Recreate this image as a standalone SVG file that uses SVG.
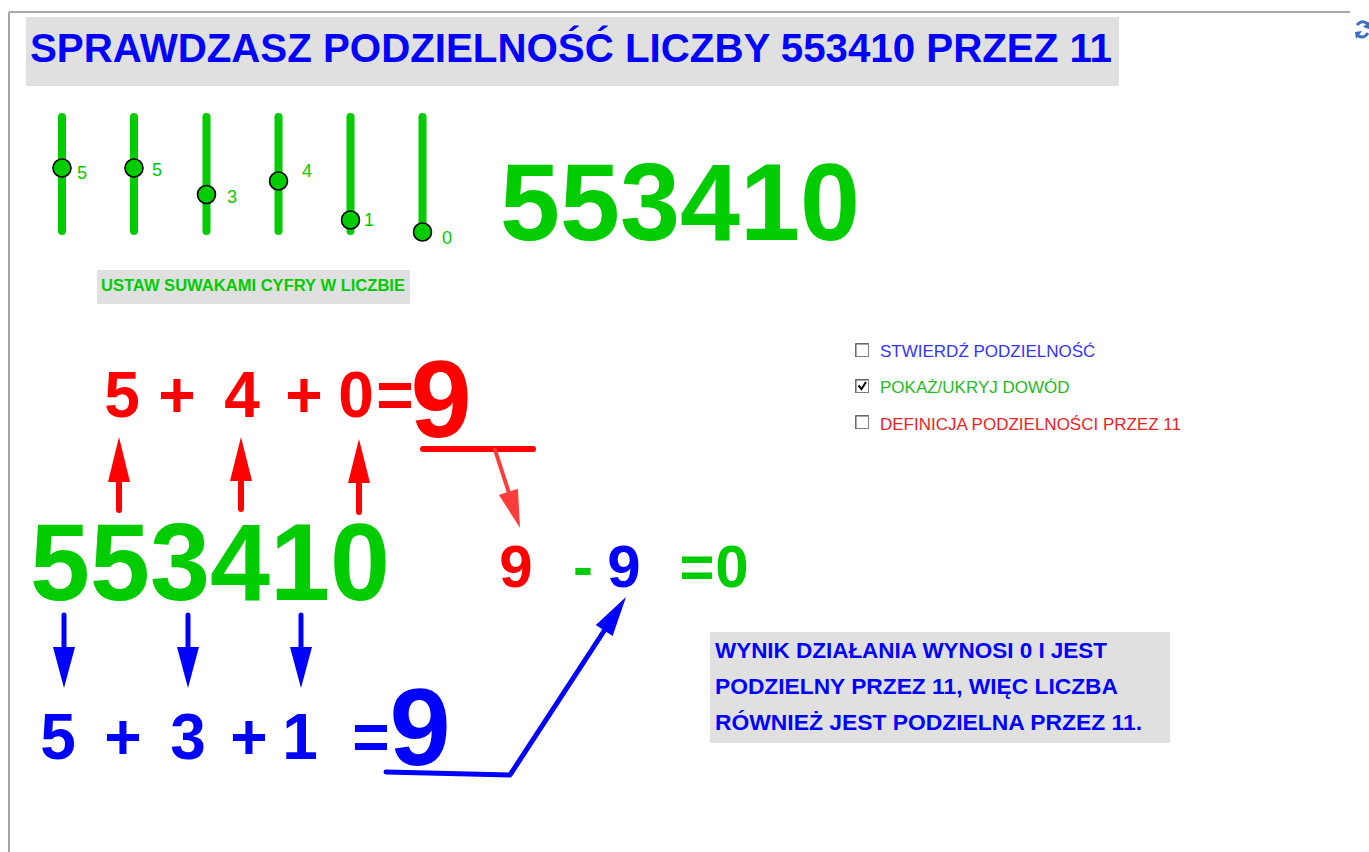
<svg xmlns="http://www.w3.org/2000/svg" width="1369" height="852" viewBox="0 0 1369 852">
<style>
text{font-family:"Liberation Sans",Arial,sans-serif}
.b{font-weight:bold}
.g{fill:#00cc00}.r{fill:#ff0000}.bl{fill:#0000ff}
.m{text-anchor:middle}
.track{stroke:#00cc00;stroke-width:8;stroke-linecap:round}
.knob{fill:#00cc00;stroke:#000;stroke-width:1.6}
.sl{font-size:18px;fill:#00cc00}
.box{fill:#e0e0e0}
.cb{fill:#fff;stroke:#808080;stroke-width:1}
.chk{font-size:17px}
.rs{stroke:#ff0000;stroke-width:6;stroke-linecap:round;fill:none}
.bs{stroke:#0000ff;stroke-width:5;stroke-linecap:round;stroke-linejoin:round;fill:none}
</style>
<rect width="1369" height="852" fill="#fff"/>
<g id="frame">
<line x1="9" y1="12" x2="1350" y2="12" stroke="#a8a8a8" stroke-width="2"/>
<line x1="9" y1="12" x2="9" y2="852" stroke="#a8a8a8" stroke-width="2"/>
</g>
<g id="reset-icon" fill="none" stroke="#3a6fc4" stroke-width="3">
<path d="M1357 25 Q1362 19 1368 24"/>
<path d="M1368 33 Q1363 40 1357 35"/>
<polygon points="1363,27 1369,22 1369,29" fill="#3a6fc4" stroke="none"/>
<polygon points="1362,31 1355,32 1356,39" fill="#3a6fc4" stroke="none"/>
</g>
<g id="title">
<rect class="box" x="26" y="17" width="1093" height="69"/>
<text class="b bl" x="30" y="62" font-size="40" textLength="1082" lengthAdjust="spacingAndGlyphs">SPRAWDZASZ PODZIELNOŚĆ LICZBY 553410 PRZEZ 11</text>
</g>
<g id="sliders">
<line class="track" x1="62" y1="117" x2="62" y2="231"/>
<line class="track" x1="134" y1="117" x2="134" y2="231"/>
<line class="track" x1="206.5" y1="117" x2="206.5" y2="231"/>
<line class="track" x1="278.5" y1="117" x2="278.5" y2="231"/>
<line class="track" x1="350.5" y1="117" x2="350.5" y2="231"/>
<line class="track" x1="422.5" y1="117" x2="422.5" y2="231"/>
<circle class="knob" cx="62" cy="168" r="9"/>
<circle class="knob" cx="134" cy="168" r="9"/>
<circle class="knob" cx="206.5" cy="194.5" r="9"/>
<circle class="knob" cx="278.5" cy="181" r="9"/>
<circle class="knob" cx="350.5" cy="220" r="9"/>
<circle class="knob" cx="422.5" cy="232" r="9"/>
<text class="sl" x="77" y="179">5</text>
<text class="sl" x="152" y="176">5</text>
<text class="sl" x="227" y="203">3</text>
<text class="sl" x="302" y="177">4</text>
<text class="sl" x="364" y="226">1</text>
<text class="sl" x="442" y="244">0</text>
</g>
<g id="number-top">
<text class="b g" x="500" y="240" font-size="109" textLength="360" lengthAdjust="spacingAndGlyphs">553410</text>
</g>
<g id="hint">
<rect class="box" x="97" y="270" width="313" height="34"/>
<text class="b g" x="101" y="291" font-size="16" textLength="304" lengthAdjust="spacingAndGlyphs">USTAW SUWAKAMI CYFRY W LICZBIE</text>
</g>
<g id="checkboxes">
<rect class="cb" x="855.5" y="343.5" width="13" height="13"/>
<path d="M856 357 V344 H868" stroke="#555" fill="none"/>
<text class="chk" x="880" y="357" fill="#3333ff">STWIERDŹ PODZIELNOŚĆ</text>
<rect class="cb" x="855.5" y="379.5" width="13" height="13"/>
<path d="M856 393 V380 H868" stroke="#555" fill="none"/>
<path d="M858.5 385.5 L861.5 389 L866 382" stroke="#000" stroke-width="2" fill="none"/>
<text class="chk" x="880" y="393" fill="#22bb22">POKAŻ/UKRYJ DOWÓD</text>
<rect class="cb" x="855.5" y="415.5" width="13" height="13"/>
<path d="M856 429 V416 H868" stroke="#555" fill="none"/>
<text class="chk" x="880" y="430" fill="#ee2222">DEFINICJA PODZIELNOŚCI PRZEZ 11</text>
</g>
<g id="red-sum">
<text class="b r m" x="122" y="417" font-size="64">5</text>
<text class="b r m" x="177" y="417" font-size="64">+</text>
<text class="b r m" x="242" y="417" font-size="64">4</text>
<text class="b r m" x="304" y="417" font-size="64">+</text>
<text class="b r m" x="356" y="417" font-size="64">0</text>
<text class="b r m" x="395" y="417" font-size="64">=</text>
<text class="b r m" x="441" y="437" font-size="110">9</text>
</g>
<g id="number-bottom">
<text class="b g" x="30" y="600" font-size="109" textLength="360" lengthAdjust="spacingAndGlyphs">553410</text>
</g>
<g id="blue-sum">
<text class="b bl m" x="58" y="759" font-size="64">5</text>
<text class="b bl m" x="123" y="759" font-size="64">+</text>
<text class="b bl m" x="188" y="759" font-size="64">3</text>
<text class="b bl m" x="249" y="759" font-size="64">+</text>
<text class="b bl m" x="300" y="759" font-size="64">1</text>
<text class="b bl m" x="371" y="759" font-size="64">=</text>
<text class="b bl m" x="420" y="765" font-size="110">9</text>
</g>
<g id="difference">
<text class="b r m" x="516" y="587" font-size="60">9</text>
<text class="b g m" x="583" y="587" font-size="60">-</text>
<text class="b bl m" x="624" y="587" font-size="60">9</text>
<text class="b g m" x="697" y="587" font-size="60">=</text>
<text class="b g m" x="732" y="587" font-size="60">0</text>
</g>
<g id="result">
<rect class="box" x="710" y="632" width="460" height="111"/>
<text class="b bl" x="715" y="658" font-size="22" textLength="392" lengthAdjust="spacingAndGlyphs">WYNIK DZIAŁANIA WYNOSI 0 I JEST</text>
<text class="b bl" x="715" y="694" font-size="22" textLength="403" lengthAdjust="spacingAndGlyphs">PODZIELNY PRZEZ 11, WIĘC LICZBA</text>
<text class="b bl" x="715" y="730" font-size="22" textLength="427" lengthAdjust="spacingAndGlyphs">RÓWNIEŻ JEST PODZIELNA PRZEZ 11.</text>
</g>
<g id="connectors">
<line class="rs" x1="119" y1="510" x2="119" y2="478"/>
<polygon points="108,482 130,482 119,437" fill="#ff0000"/>
<line class="rs" x1="241" y1="509" x2="241" y2="478"/>
<polygon points="230,481 252,481 241,437" fill="#ff0000"/>
<line class="rs" x1="359" y1="512" x2="359" y2="480"/>
<polygon points="348,483 370,483 359,439" fill="#ff0000"/>
<line class="rs" x1="423" y1="449" x2="533" y2="449"/>
<line x1="495" y1="450" x2="510" y2="496" stroke="#ff3c3c" stroke-width="4" stroke-linecap="round"/>
<polygon points="520,528 498.9,494.9 517.9,488.7" fill="#ff3c3c"/>
<line class="bs" x1="64" y1="615" x2="64" y2="652"/>
<polygon points="53,647 75,647 64,688" fill="#0000ff"/>
<line class="bs" x1="188" y1="615" x2="188" y2="652"/>
<polygon points="177,647 199,647 188,688" fill="#0000ff"/>
<line class="bs" x1="301" y1="615" x2="301" y2="652"/>
<polygon points="290,647 312,647 301,688" fill="#0000ff"/>
<polyline class="bs" points="386,772 510,775 606,628"/>
<polygon points="626,597 612.6,636 595.8,625" fill="#0000ff"/>
</g>
</svg>
